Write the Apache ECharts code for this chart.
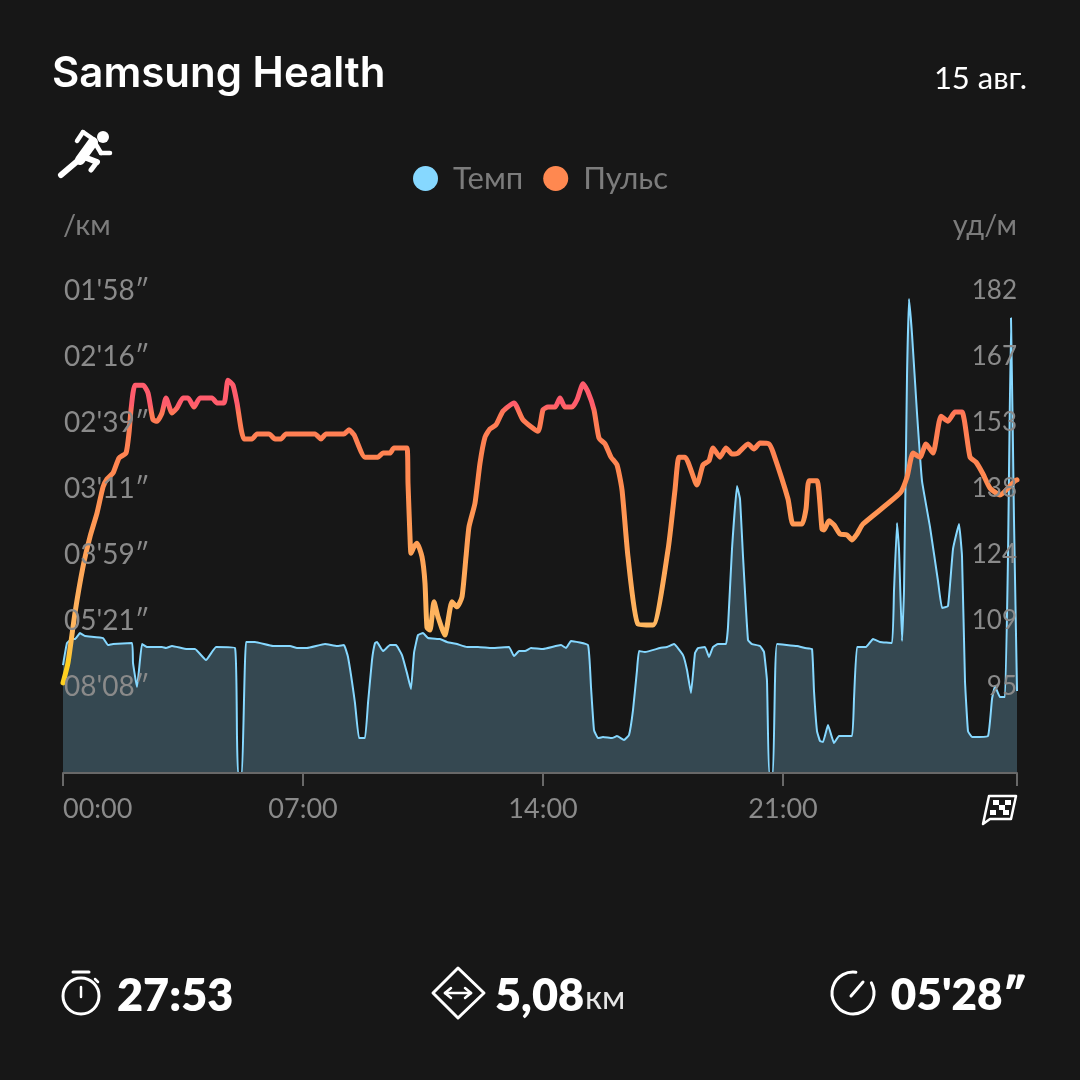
<!DOCTYPE html>
<html>
<head>
<meta charset="utf-8">
<script src="https://cdn.jsdelivr.net/npm/echarts@6/dist/echarts.min.js"></script>
<style>html,body{margin:0;padding:0;background:#171717}#c{width:1080px;height:1080px}</style>
</head>
<body>
<div id="c"></div>
<script>
const seriesNames = ['Темп', 'Пульс'];
const xTickSeconds = [0, 420, 840, 1260, 1669.5];
const xTickLabels = ['00:00', '07:00', '14:00', '21:00', ''];
const paceTickSpeeds = [7.38, 11.22, 15.06, 18.9, 22.74, 26.58, 30.42];
const paceTickLabels = ["08'08″", "05'21″", "03'59″", "03'11″", "02'39″", "02'16″", "01'58″"];
const hrTicks = [95, 109.5, 124, 138.5, 153, 167.5, 182];
const hrTickLabels = ['95', '109', '124', '138', '153', '167', '182'];

const hrSeconds = [0,8.75,21,35,47.25,59.5,70,77,87.5,98,110.25,115.5,119,126,140,148.75,157.5,164.5,173.25,180.25,190.75,199.5,210,218.75,229.25,239.75,260.75,269.5,281.75,288.75,297.5,304.5,316.75,330.75,339.5,360.5,371,381.5,390.25,441,451.5,460.25,491.75,500.5,509.25,528.5,551.25,560,572.25,579.25,602,603.75,607.25,609,614.25,619.5,628.25,633.5,637,642.25,649.25,656.25,668.5,672,680.75,689.5,698.25,705.25,710.5,721,729.75,738.5,747.25,757.75,770,789.25,805,831.25,840,848.75,861,869.75,878.5,890.75,899.5,910,918.75,929.25,938,948.5,959,969.5,978.25,988.75,1006.25,1032.5,1058.75,1071,1078,1088.5,1109.5,1120,1130.5,1137.5,1149.75,1160.25,1170.75,1181.25,1198.75,1209.25,1219.75,1235.5,1242.5,1268.75,1277.5,1293.25,1300.25,1305.5,1319.5,1328.25,1331.75,1340.5,1349.25,1359.75,1372,1380.75,1389.5,1400,1464.75,1477,1487.5,1499.75,1510.25,1522.5,1536.5,1548.75,1561,1573.25,1587.25,1597.75,1610,1622.25,1639.75,1666,1669.5];
const hrValues = [95.9,100.3,111.3,121.4,128.0,133.2,138.9,140.7,142.0,145.3,146.4,150.8,155.9,161.3,161.3,159.6,153.7,153.4,155.2,158.5,155.2,156.3,158.5,158.5,156.5,158.5,158.5,157.4,157.4,162.4,161.3,157.4,149.5,149.5,150.6,150.6,149.5,149.5,150.6,150.6,149.5,150.6,150.6,151.5,150.4,145.5,145.5,146.4,146.4,147.5,147.5,139.8,128.0,124.4,125.8,126.6,123.6,117.8,108.0,107.5,113.7,110.4,106.4,108.2,113.7,112.6,114.8,123.6,130.2,135.4,144.2,149.9,151.7,152.6,155.6,157.4,153.7,151.2,155.9,156.5,156.5,158.5,156.5,156.5,158.1,161.6,159.8,155.9,149.7,148.4,145.5,143.8,138.3,123.6,108.8,108.6,125.1,138.3,145.5,145.5,139.4,143.8,144.7,147.5,145.5,147.5,146.2,146.4,148.4,147.3,148.6,148.4,146.6,136.3,130.8,130.8,134.1,140.3,140.3,129.7,129.5,131.5,130.6,128.6,128.4,127.3,128.6,130.8,137.6,141.1,146.4,145.5,148.4,146.4,154.5,153.4,155.4,155.4,145.5,144.4,141.8,138.7,137.2,140.3,140.5];

const paceSeconds = [0,7,15.75,21,29.75,38.5,70,78.75,87.5,120.75,122.5,129.5,133,138.25,147,173.25,180.25,190.75,217,231,250.25,267.75,301,304.5,306.25,313.25,320.25,336,367.5,397.25,409.5,427,458.5,479.5,491.75,498.75,511,518,528.5,533.75,540.75,546,549.5,560,572.25,582.75,593.25,602,609,614.25,621.25,630,638.75,659.75,672,689.5,707,726.25,750.75,780.5,789.25,798,808.5,819,840,871.5,880.25,889,918.75,924,929.25,936.25,945,960.75,969.5,981.75,990.5,997.5,1004.5,1008,1018.5,1044.75,1057,1069.25,1085,1092,1099,1106,1111.25,1123.5,1130.5,1137.5,1146.25,1160.25,1163.75,1170.75,1179.5,1184.75,1190,1198.75,1205.75,1219.75,1226.75,1232,1235.5,1242.5,1246,1249.5,1284.5,1298.5,1310.75,1314.25,1319.5,1324.75,1330,1338.75,1349.25,1358,1380.75,1384.25,1389.5,1405.25,1417.5,1429.75,1450.75,1454.25,1459.5,1463,1468.25,1471.75,1477,1480.5,1485.75,1494.5,1503.25,1517.25,1531.25,1538.25,1548.75,1557.5,1568,1573.25,1578.5,1583.75,1590.75,1618.75,1625.75,1631,1639.75,1648.5,1653.75,1659,1664.25,1669.5];
const paceSpeeds = [8.66,9.94,10.17,10.17,10.52,10.35,10.23,9.82,9.88,9.94,8.78,7.38,8.37,9.88,9.71,9.71,9.65,9.77,9.59,9.59,8.95,9.71,9.65,4.47,2.38,2.38,10.0,10.0,9.77,9.77,9.65,9.65,9.88,9.77,9.82,9.13,6.45,4.41,4.41,6.45,8.95,9.94,10.0,9.47,9.82,9.82,9.24,8.19,7.26,9.36,10.41,10.52,10.23,10.17,10.0,9.88,9.71,9.71,9.65,9.71,9.18,9.47,9.47,9.65,9.59,9.82,9.65,10.06,9.82,7.38,4.88,4.41,4.47,4.41,4.53,4.30,4.59,6.04,8.37,9.47,9.42,9.65,9.71,9.88,9.24,8.37,7.03,9.36,9.65,9.71,9.13,9.71,9.88,9.88,10.87,15.41,19.07,18.32,15.0,10.11,9.88,9.77,9.42,7.73,2.38,2.38,7.73,9.88,9.77,9.65,9.59,7.15,4.82,4.24,4.18,5.17,4.12,4.53,4.53,6.68,9.71,9.71,10.17,10.0,9.94,12.97,16.92,15.41,10.06,12.97,25.42,29.95,27.92,23.32,19.37,16.69,13.55,11.98,12.09,15.41,16.86,15.0,7.73,4.82,4.47,4.53,6.68,7.44,6.80,6.80,15.0,28.85,17.10,7.15];

const BG = '#171717', GREY = '#8a8a8a', WHITE = '#ffffff';
const FONT = 'Lato, "Open Sans", sans-serif';
const zip = (a, b) => a.map((v, i) => [v, b[i]]);
const labelAt = (ticks, labels) => v => {
  const i = ticks.findIndex(t => Math.abs(t - v) < 1e-6);
  return i < 0 ? '' : labels[i];
};
const stroke = (w) => ({ stroke: WHITE, lineWidth: w, fill: 'none', lineCap: 'round', lineJoin: 'round' });
const ln = (x1, y1, x2, y2, w) => ({ type: 'line', shape: { x1, y1, x2, y2 }, style: stroke(w), silent: true });
const txt = (x, y, text, size, weight, color, align, family) => ({
  type: 'text', x, y, silent: true,
  style: { text, fontSize: size, fontWeight: weight, fontFamily: family || FONT, fill: color, align: align || 'left', verticalAlign: 'middle' }
});

const chart = echarts.init(document.getElementById('c'), null, { renderer: 'canvas', width: 1080, height: 1080 });
chart.setOption({
  animation: false,
  backgroundColor: BG,
  legend: {
    left: 408, top: 158, itemWidth: 25, itemHeight: 25, itemGap: 20, icon: 'circle',
    textStyle: { color: '#7c7c7c', fontSize: 31, fontFamily: FONT, padding: [0, 0, 0, 10] },
    data: [
      { name: seriesNames[0], itemStyle: { color: '#86d8ff' } },
      { name: seriesNames[1], itemStyle: { color: '#ff8850' } }
    ]
  },
  grid: { left: 63, right: 63, top: 291, bottom: 307, containLabel: false },
  xAxis: {
    type: 'value', min: 0, max: xTickSeconds[4], z: 4,
    axisLine: { show: true, lineStyle: { color: '#686868', width: 2 } },
    axisTick: { show: true, length: 13, customValues: xTickSeconds, lineStyle: { color: '#686868', width: 2 } },
    axisLabel: {
      customValues: xTickSeconds, color: GREY, fontSize: 27, fontFamily: FONT, margin: 23,
      alignMinLabel: 'left', showMinLabel: true, showMaxLabel: true, hideOverlap: false,
      formatter: labelAt(xTickSeconds, xTickLabels)
    },
    splitLine: { show: false }
  },
  yAxis: [
    {
      type: 'value', min: 2.38, max: 30.42, position: 'left', z: 5,
      name: '/км', nameLocation: 'end', nameGap: 65,
      nameTextStyle: { color: '#7c7c7c', fontSize: 29, fontFamily: FONT, align: 'left', verticalAlign: 'middle' },
      axisLine: { show: false }, axisTick: { show: false }, splitLine: { show: false },
      axisLabel: {
        inside: true, margin: 0, align: 'left', customValues: paceTickSpeeds, color: GREY, fontSize: 28, fontFamily: FONT, padding: [8, 0, 0, 1],
        formatter: labelAt(paceTickSpeeds, paceTickLabels)
      }
    },
    {
      type: 'value', min: 76.1, max: 182, position: 'right', z: 5,
      name: 'уд/м', nameLocation: 'end', nameGap: 65,
      nameTextStyle: { color: '#7c7c7c', fontSize: 29, fontFamily: FONT, align: 'right', verticalAlign: 'middle' },
      axisLine: { show: false }, axisTick: { show: false }, splitLine: { show: false },
      axisLabel: {
        inside: true, margin: 0, align: 'right', customValues: hrTicks, color: GREY, fontSize: 26, fontFamily: FONT, padding: [8, 0, 0, 0],
        formatter: labelAt(hrTicks, hrTickLabels)
      }
    }
  ],
  series: [
    {
      name: seriesNames[0], type: 'line', yAxisIndex: 0, z: 2, smooth: 0.1, showSymbol: false,
      data: zip(paceSeconds, paceSpeeds),
      itemStyle: { color: '#86d8ff' },
      lineStyle: { color: '#86d8ff', width: 2 },
      areaStyle: { color: '#354851', opacity: 1 }
    },
    {
      name: seriesNames[1], type: 'line', yAxisIndex: 1, z: 3, smooth: 0.18, showSymbol: false,
      data: zip(hrSeconds, hrValues),
      itemStyle: { color: '#ff8850' },
      lineStyle: {
        width: 5, cap: 'round', join: 'round',
        color: {
          type: 'linear', global: true, x: 0, y: 380, x2: 0, y2: 685,
          colorStops: [
            { offset: 0, color: '#ff5c6c' }, { offset: 0.08, color: '#ff5c6c' },
            { offset: 0.11, color: '#ff7a55' }, { offset: 0.33, color: '#ff8a50' },
            { offset: 0.6, color: '#ffa558' }, { offset: 0.82, color: '#ffb860' },
            { offset: 0.89, color: '#ffc040' }, { offset: 0.93, color: '#ffd020' },
            { offset: 1, color: '#ffd020' }
          ]
        }
      }
    }
  ],
  graphic: [
    txt(52, 74, 'Samsung Health', 42, 600, WHITE, 'left', 'Inter, Lato, sans-serif'),
    txt(1027, 79, '15 авг.', 31, 400, WHITE, 'right'),

    // runner icon
    { type: 'circle', shape: { cx: 103, cy: 137, r: 6 }, style: { fill: WHITE }, silent: true },
    ln(93, 142, 80, 160, 10), ln(81, 158, 61, 175, 6), ln(84, 157, 97, 162, 6), ln(97, 162, 91, 170, 5),
    ln(93, 139, 83, 132, 4.5), ln(83, 132, 77, 141, 4.5), ln(95, 143, 101, 153, 4.5), ln(101, 153, 110, 153, 4.5),

    // finish flag icon
    { type: 'polygon', silent: true, shape: { points: [[989, 796], [1016, 796], [1011, 819], [990, 819], [983, 824]] }, style: stroke(2.5) },
    { type: 'rect', silent: true, shape: { x: 993, y: 800, width: 6, height: 5 }, style: { fill: WHITE } },
    { type: 'rect', silent: true, shape: { x: 1005, y: 800, width: 6, height: 5 }, style: { fill: WHITE } },
    { type: 'rect', silent: true, shape: { x: 999, y: 805, width: 6, height: 5 }, style: { fill: WHITE } },
    { type: 'rect', silent: true, shape: { x: 990, y: 810, width: 6, height: 5 }, style: { fill: WHITE } },
    { type: 'rect', silent: true, shape: { x: 1003, y: 810, width: 6, height: 5 }, style: { fill: WHITE } },

    // stopwatch
    { type: 'circle', silent: true, shape: { cx: 81, cy: 996, r: 18 }, style: stroke(3) },
    ln(73, 972, 89, 972, 3), ln(81, 987, 81, 997, 2.5), ln(95, 979, 98, 982, 2.5),
    txt(117, 996, '27:53', 45, 800, WHITE),

    // distance diamond
    { type: 'polygon', silent: true, shape: { points: [[458, 968], [484, 993], [458, 1018], [433, 993]] }, style: stroke(3) },
    ln(445, 993, 471, 993, 2.5), ln(445, 993, 451, 988, 2.5), ln(445, 993, 451, 998, 2.5), ln(471, 993, 465, 988, 2.5), ln(471, 993, 465, 998, 2.5),
    txt(495, 996, '5,08', 45, 800, WHITE),
    txt(585, 998, 'км', 33, 400, '#e6e6e6'),

    // average pace gauge
    { type: 'arc', silent: true, shape: { cx: 853, cy: 993, r: 21, startAngle: -0.5, endAngle: 4.85, clockwise: true }, style: stroke(3) },
    ln(851, 996, 863, 982, 3),
    txt(1027, 996, "05'28″", 44, 800, WHITE, 'right')
  ]
});
</script>
</body>
</html>
